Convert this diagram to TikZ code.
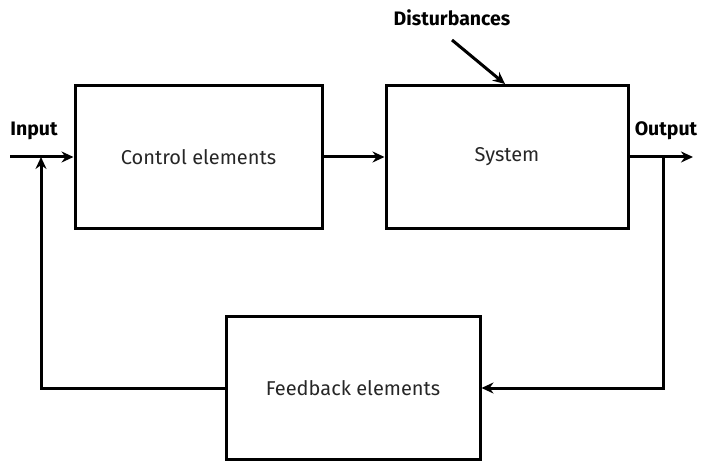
\documentclass[tikz,border=0pt]{standalone}
\usepackage{fontspec}
\setmainfont{Fira Sans}
\usetikzlibrary{arrows.meta}
\begin{document}
\begin{tikzpicture}[x=1pt,y=1pt,
  blk/.style={draw,line width=3pt,minimum width=#1,minimum height=143pt,inner sep=0pt,font=\fontsize{20}{24}\selectfont\color{black!85}},
  lbl/.style={font=\fontsize{19.5}{24}\selectfont\bfseries},
  con/.style={line width=3pt,-{Stealth[length=12pt,width=11pt]}}]
\useasboundingbox (0,0) rectangle (706,461);
\node[blk=247pt] (ctrl) at (198.5,304) {Control elements};
\node[blk=242pt] (sys) at (507,304) {System};
\node[blk=254pt] (fb) at (353,73) {Feedback elements};
\coordinate (in) at (10,304);
\coordinate (out) at (693,304);
\coordinate (br) at (663,304);
\coordinate (bl) at (41,304);
\coordinate (dstart) at (452,421);
\node[lbl] (inl) at (34,330) {Input};
\node[lbl] (outl) at (666,330) {Output};
\node[lbl] (dl) at (452,443) {Disturbances};
\draw[con] (in) -- (ctrl.west);
\draw[con] (ctrl.east) -- (sys.west);
\draw[con] (sys.east) -- (out);
\draw[con] (br) |- (fb.east);
\draw[con] (fb.west) -| (bl);
\draw[con] (dstart) -- ([xshift=-2pt]sys.north);
\end{tikzpicture}
\end{document}
